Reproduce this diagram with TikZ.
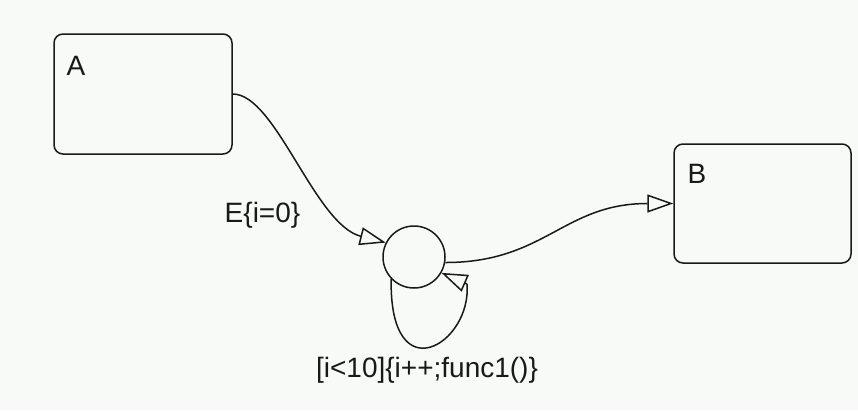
\documentclass[tikz,border=0pt]{standalone}
\usepackage{fontspec}
\setmainfont{Liberation Sans}
\usetikzlibrary{arrows.meta}
\definecolor{bg}{RGB}{247,250,247}
\definecolor{ink}{RGB}{25,25,25}
\begin{document}
\begin{tikzpicture}[x=1pt,y=-1pt,line width=1.5pt,draw=ink,
  statebox/.style={draw=ink,rounded corners=9pt,inner sep=0pt},
  junc/.style={draw=ink,circle,minimum size=62pt,inner sep=0pt},
  lbl/.style={text=ink,font=\fontsize{28}{30}\selectfont,inner sep=0pt},
  arr/.style={-{Triangle[open,length=26pt,width=18pt]}}]
\fill[bg] (0,0) rectangle (858,410);
\useasboundingbox (0,0) rectangle (858,410);
\node[statebox,minimum width=178pt,minimum height=120pt] (A) at (143,94) {};
\node[statebox,minimum width=177pt,minimum height=119pt] (B) at (762.5,203.5) {};
\node[junc] (J) at (414,257) {};
\node[lbl,anchor=base] (la) at (76,75) {A};
\node[lbl,anchor=base] (lb) at (697,183) {B};
\node[lbl,anchor=base] (le) at (262.5,222) {E\{i=0\}};
\node[lbl,anchor=base] (ll) at (427,377) {[i<10]\{i++;func1()\}};
\coordinate (lk) at (467,284);
\draw[arr] (A.east) .. controls +(43,0) and +(-71,-18) .. (J.153);
\draw[arr] (J.-10) .. controls +(100,0) and +(-110,0) .. (B.west);
\draw (J.-136) .. controls +(-2,115) and +(5,60) .. (lk);
\draw[arr] (lk) -- (J.-30);
\end{tikzpicture}
\end{document}
